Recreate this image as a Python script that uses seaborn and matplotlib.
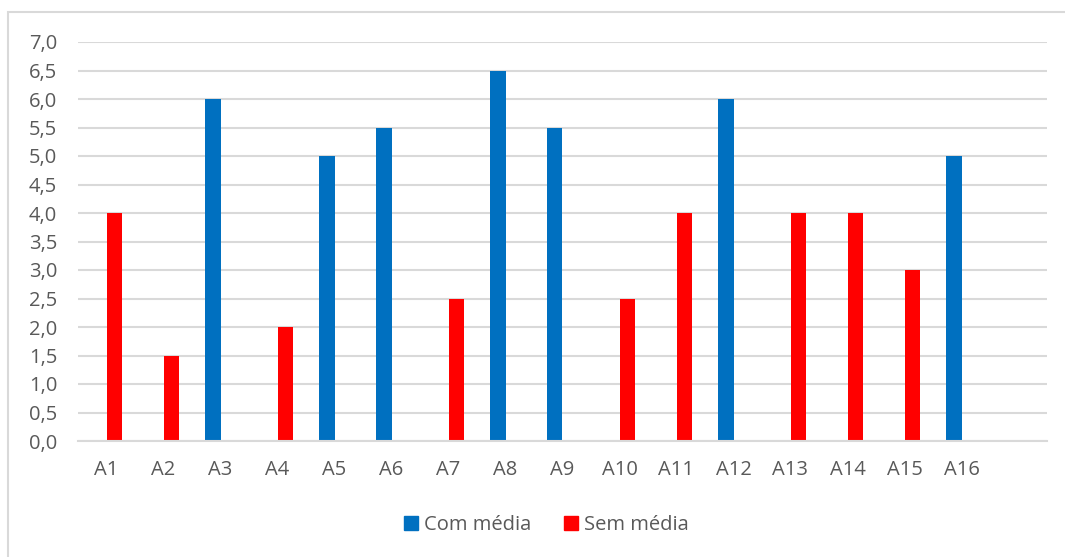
import numpy as np
import pandas as pd
import seaborn as sns
import matplotlib.pyplot as plt
import matplotlib.patches as patches

# values
categories = [f"A{i}" for i in range(1, 17)]
com_media = [0, 0, 6.0, 0, 5.0, 5.5, 0, 6.5, 5.5, 0, 0, 6.0, 0, 0, 0, 5.0]
sem_media = [4.0, 1.5, 0, 2.0, 0, 0, 2.5, 0, 0, 2.5, 4.0, 0, 4.0, 4.0, 3.0, 0]
series_names = ["Com média", "Sem média"]
y_ticks = [0.0, 0.5, 1.0, 1.5, 2.0, 2.5, 3.0, 3.5, 4.0, 4.5, 5.0, 5.5, 6.0, 6.5, 7.0]

df = pd.DataFrame({
    "cat": categories * 2,
    "serie": [series_names[0]] * len(categories) + [series_names[1]] * len(categories),
    "valor": com_media + sem_media,
})

sns.set_theme(style="white")
plt.rcParams["font.family"] = ["Open Sans", "DejaVu Sans"]

text_color = "#595959"
grid_color = "#D9D9D9"

fig = plt.figure(figsize=(10.65, 5.57), dpi=100)
ax = fig.add_axes([78 / 1065, 1 - 441 / 557, (1047 - 78) / 1065, (441 - 42) / 557])

sns.barplot(
    data=df, x="cat", y="valor", hue="serie",
    order=categories, hue_order=series_names,
    palette=["#0070C0", "#FF0000"],
    width=0.56, linewidth=0, saturation=1, ax=ax,
)

ax.set_xlim(-0.5, 16.5)
ax.set_ylim(0, 7.0)
ax.set_yticks(y_ticks)
ax.set_yticklabels([f"{v:.1f}".replace(".", ",") for v in y_ticks])
ax.set_xlabel("")
ax.set_ylabel("")

ax.yaxis.grid(True, color=grid_color, linewidth=1.5)
ax.set_axisbelow(True)
for side in ["top", "right", "left"]:
    ax.spines[side].set_visible(False)
ax.spines["bottom"].set_color(grid_color)
ax.spines["bottom"].set_linewidth(1.5)

ax.tick_params(axis="y", length=0, pad=15, labelsize=14.5, labelcolor=text_color)
ax.tick_params(axis="x", length=0, pad=14, labelsize=14.5, labelcolor=text_color)

ax.legend_.remove()
handles = [patches.Patch(color="#0070C0"), patches.Patch(color="#FF0000")]
fig.legend(
    handles, series_names, loc="center", bbox_to_anchor=(0.513, 0.0575),
    ncol=2, frameon=False, fontsize=14.5, labelcolor=text_color,
    handlelength=0.7, handleheight=0.7, handletextpad=0.3, columnspacing=1.6,
)

# chart area border (light gray), only left and top edges are visible in the crop
fig.add_artist(patches.Rectangle(
    (8 / 1065, -0.05), 1.2, 1 - 12 / 557 + 0.05,
    transform=fig.transFigure, fill=False, edgecolor="#D9D9D9", linewidth=1.5,
))

fig.savefig("out.png", dpi=100, facecolor="white")
